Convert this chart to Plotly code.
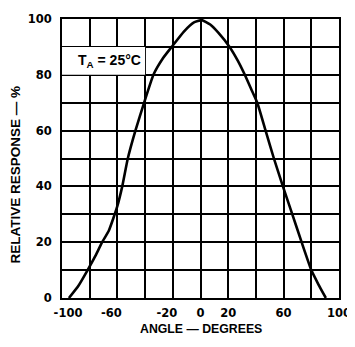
import plotly.graph_objects as go

# Data
angle_deg = [-95, -88, -81.5, -76, -71, -66.3, -63, -60, -56.5, -52.5, -47, -40.7, -34, -27,
             -20, -12, -5, 1, 7, 13, 21, 27, 32, 36.5, 41, 47, 53, 59.5, 66.3, 73, 80, 85, 90.5]
relative_response = [0, 4.5, 10, 15, 20, 24, 28.5, 33, 40, 50, 60, 70, 80, 86,
                     90.5, 95.5, 98.7, 99.6, 98, 95, 90, 85, 80, 75, 70, 60, 50, 40, 30, 20, 10, 5, 0]

NB = "\u00a0"
x_tickvals = [-100, -80, -60, -40, -20, 0, 20, 40, 60, 80, 100]
x_ticktext = [NB * 3 + "-100", "", "-60" + NB * 3, "", "-20" + NB * 3, "0", "20", "", "60", "", "100"]
y_tickvals = [0, 10, 20, 30, 40, 50, 60, 70, 80, 90, 100]
y_ticktext = ["0", "", "20", "", "40", "", "60", "", "80", "", "100"]

FONT = "Liberation Sans"

fig = go.Figure()
fig.add_trace(go.Scatter(
    x=angle_deg, y=relative_response, mode="lines",
    line=dict(color="black", width=2.6, shape="spline", smoothing=0.4),
    hoverinfo="skip", showlegend=False,
))

# white box behind the label
fig.add_shape(type="rect", x0=-100, x1=-40, y0=80, y1=90, xref="x", yref="y",
              fillcolor="white", line=dict(width=0), layer="between")

fig.add_annotation(x=-90, y=85, xref="x", yref="y", xanchor="left", yanchor="middle",
                   text="<b>T<sub>A</sub> = 25°C</b>", showarrow=False,
                   font=dict(family=FONT, size=14, color="black"))

fig.add_annotation(x=-0.168, y=0.444, xref="paper", yref="paper", textangle=-90,
                   xanchor="center", yanchor="middle",
                   text="<b>RELATIVE RESPONSE — %</b>", showarrow=False,
                   font=dict(family=FONT, size=13.5, color="black"))
fig.add_annotation(x=0.502, y=-0.112, xref="paper", yref="paper",
                   xanchor="center", yanchor="middle",
                   text="<b>ANGLE — DEGREES</b>", showarrow=False,
                   font=dict(family=FONT, size=12.3, color="black"))

axis_common = dict(
    showgrid=True, gridcolor="black", gridwidth=1.5,
    showline=True, linecolor="black", linewidth=2, mirror=True,
    zeroline=False, ticks="", fixedrange=True, ticklabeloverflow="allow",
    tickfont=dict(family="DejaVu Sans", size=11.5, color="black", weight="bold"),
)

# page body has an 8px margin; shrink figure so plot area lands where the reference has it
fig.update_layout(
    width=347, height=339,
    margin=dict(l=54, r=8, t=4, b=49),
    paper_bgcolor="white", plot_bgcolor="white",
    xaxis=dict(range=[-100, 100], tickmode="array", tickvals=x_tickvals, ticktext=x_ticktext,
               ticklabelstandoff=3, **axis_common),
    yaxis=dict(range=[0, 100], tickmode="array", tickvals=y_tickvals, ticktext=y_ticktext,
               ticklabelstandoff=6, **axis_common),
)

fig.write_html("out.html", config={"displayModeBar": False})
